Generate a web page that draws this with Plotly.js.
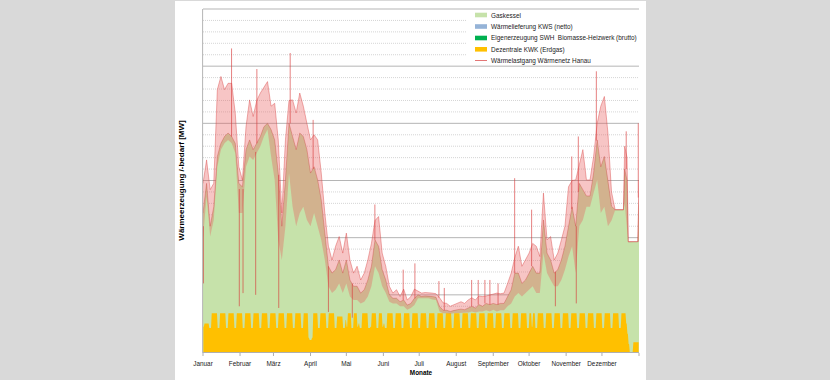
<!DOCTYPE html>
<html><head><meta charset="utf-8">
<script src="https://cdn.plot.ly/plotly-3.0.1.min.js"></script>
<style>
html,body{margin:0;padding:0;background:#d9d9d9;width:830px;height:380px;overflow:hidden}
#wrap{position:absolute;left:175px;top:1px;width:471px;height:379px;background:#fff;overflow:hidden}
#chart{width:589px;height:379px;transform:scaleX(0.8);transform-origin:0 0}
</style></head>
<body><div id="wrap"><div id="chart"></div></div>
<script>
// ---------- data (MW) ----------
const monthStarts = ['2018-01-01','2018-02-01','2018-03-01','2018-04-01','2018-05-01','2018-06-01',
  '2018-07-01','2018-08-01','2018-09-01','2018-10-01','2018-11-01','2018-12-01','2019-01-01'];
const monthLabels = ['Januar','Februar','März','April','Mai','Juni','Juli','August','September',
  'Oktober','November','Dezember',''];

// sample days (day of year 2018, 0 = 1 Jan)
const sampleDays = [0,3,6,9,12,15,18,21,24,27,30,33,36,39,42,45,48,51,54,57,60,63,66,69,72,75,78,81,84,87,
  90,93,96,99,102,105,108,111,114,117,120,123,126,129,132,135,138,141,144,147,150,153,156,159,162,165,168,171,174,177,
  180,183,186,189,192,195,198,201,204,207,210,213,216,219,222,225,228,231,234,237,240,243,246,249,252,255,258,261,264,267,
  270,273,276,279,282,285,288,291,294,297,300,303,306,309,312,315,318,321,324,327,330,333,336,339,342,345,348,351,
  352,353,355,356,357,360,364,365];

// upper envelope of the hourly heat load (Wärmelastgang)
const lastHigh = [29.5,33.6,28.4,29.5,45.9,48.2,45.9,47.0,47.0,41.8,32.4,30.1,39.4,44.1,41.2,44.0,45.3,46.4,47.3,43.0,
  43.5,37.1,24.3,37.1,44.0,44.1,41.8,45.3,43.0,40.0,37.1,38.0,37.1,31.3,24.3,18.5,16.1,18.5,20.2,17.3,
  20.8,16.1,13.8,15.0,12.6,13.8,16.1,19.0,23.0,23.7,17.3,15.0,11.5,10.3,10.9,9.7,11.0,9.1,9.7,11.0,
  10.6,10.3,10.4,10.4,10.3,10.2,9.5,8.6,8.5,8.0,8.3,8.5,8.8,8.5,9.1,9.5,9.1,9.8,9.7,9.8,
  10.0,10.2,10.3,10.2,10.3,12.0,13.8,16.5,18.5,15.0,16.1,17.3,19.0,18.5,16.7,27.8,19.6,20.2,16.1,17.3,
  19.6,22.0,28.9,30.0,30.1,33.0,35.4,30.1,30.1,34.2,40.0,43.0,44.7,38.3,28.0,24.9,24.9,24.9,
  24.9,36.0,34.0,19.3,19.3,19.3,19.3,30.0];
// top of the production area (Gaskessel stacked on Dezentrale KWK)
const erzeugungTop = [24.3,29.5,22.0,25.4,34.2,36.5,37.7,38.3,37.7,36.5,29.5,28.9,35.4,37.1,35.4,36.5,37.7,39.4,40.0,38.9,
  37.1,31.3,22.0,30.1,40.0,37.7,35.4,38.3,37.7,35.4,31.3,32.4,30.1,26.6,20.8,15.0,13.8,14.4,16.1,13.8,
  16.1,12.6,11.5,11.5,10.3,10.9,12.6,15.0,19.6,18.5,14.4,12.6,10.0,9.4,9.4,8.8,9.1,8.2,8.5,9.4,
  10.0,9.7,9.8,9.8,9.7,9.6,8.0,7.3,7.3,7.1,7.3,7.4,7.5,7.4,7.7,8.0,7.7,8.3,8.0,8.5,
  8.3,8.5,8.3,8.5,8.5,9.7,10.9,13.8,13.8,12.0,12.6,13.8,15.0,13.8,13.8,23.1,17.3,16.1,13.8,14.4,
  16.1,18.5,22.0,25.4,22.0,29.5,28.4,27.3,27.3,31.3,37.1,32.4,34.2,30.1,25.5,24.9,24.9,24.9,
  24.9,32.0,30.0,19.3,19.3,19.3,19.3,27.0];
// lower envelope of the hourly heat load
const lastLow = [20.0,27.2,20.2,23.1,32.4,35.4,36.5,37.1,36.5,34.8,24.3,24.3,32.4,34.2,33.6,34.8,36.0,37.7,38.9,34.2,
  30.1,19.6,16.1,22.0,31.3,25.4,22.0,24.3,25.4,23.1,22.0,24.3,22.0,19.6,16.1,11.5,10.3,10.9,12.0,10.3,
  12.0,9.7,9.1,9.1,8.5,8.8,9.7,11.5,15.0,13.8,11.5,10.3,8.8,8.5,8.5,8.0,8.0,7.4,7.7,8.2,
  9.4,9.4,9.4,9.4,9.2,9.1,7.1,6.8,6.8,6.7,6.8,6.8,6.9,6.8,6.9,7.1,6.9,7.1,7.1,7.3,
  7.1,7.4,7.1,7.3,7.3,8.0,8.5,9.7,10.3,9.7,10.3,10.9,11.5,10.3,10.3,17.3,13.8,12.6,11.5,11.5,
  12.6,14.4,16.7,18.5,13.8,22.0,23.1,25.4,25.4,27.8,30.1,24.3,25.4,22.0,23.0,24.8,24.8,24.8,
  24.8,26.0,22.0,19.2,19.2,19.2,19.2,19.3];

// single-hour peaks and drops of the load line
const spikeDay  = [0.4,23.9,30.4,33.5,44.1,45.1,63.4,73.0,92.2,105.0,125.0,143.9,167.6,177.4,197.5,202.0,224.9,230.4,236.0,240.2,
  247.0,260.9,275.1,295.0,308.7,312.5,314.2,329.3,354.3,364.4];
const spikeFrom = [22.0,37.7,28.5,28.5,35.0,36.5,31.0,40.0,32.0,15.0,12.0,19.6,9.1,9.4,9.5,7.3,8.0,8.3,8.5,8.3,
  8.3,13.8,15.0,14.0,25.0,22.0,28.0,37.0,32.0,27.0];
const spikeTo   = [12.0,53.1,8.0,10.3,10.0,49.5,7.7,52.3,40.6,7.0,6.0,25.8,14.4,15.5,12.4,11.2,12.6,12.6,12.6,12.6,
  12.0,30.4,24.9,8.0,34.2,8.5,37.7,49.1,38.6,40.0];

// Dezentrale KWK (Erdgas), one value per day
const kwkDaily = [
  4.4,5.0,5.0,5.0,5.0,4.2,4.2,
  6.8,6.8,6.8,6.8,6.8,4.2,4.2,
  6.8,6.8,6.8,6.8,6.8,4.2,4.2,
  6.8,6.8,6.8,6.8,6.8,4.2,4.2,
  6.8,6.8,6.8,6.8,6.8,4.2,4.2,
  6.8,6.8,6.8,6.8,6.8,4.2,4.2,
  6.8,6.8,6.8,6.8,6.8,4.2,4.2,
  6.8,6.8,6.8,6.8,6.8,4.2,4.2,
  6.8,6.8,6.8,6.8,6.8,4.2,4.2,
  6.8,6.8,6.8,6.8,6.8,4.2,4.2,
  6.8,6.8,6.8,6.8,6.8,4.2,4.2,
  6.8,6.8,6.8,6.8,6.8,4.2,4.2,
  6.8,6.8,6.8,6.8,2.5,2.1,2.1,
  2.5,6.8,6.8,6.8,6.8,4.2,4.2,
  6.8,6.8,6.8,6.8,6.8,4.2,4.2,
  6.8,6.8,6.8,6.8,6.8,4.2,4.2,
  6.2,6.2,6.2,6.2,6.2,4.2,4.2,
  5.6,4.4,6.8,6.8,6.8,4.2,4.2,
  6.8,6.8,6.8,4.4,5.0,4.2,4.2,
  6.8,6.8,6.8,6.8,6.8,4.2,4.2,
  4.4,6.8,6.8,6.8,6.8,4.2,4.2,
  6.8,6.8,6.8,4.4,5.0,4.2,4.2,
  6.8,6.8,6.8,6.8,6.8,4.2,4.2,
  6.8,6.8,6.8,6.8,6.8,4.2,4.2,
  6.8,6.8,6.8,6.8,6.8,4.2,4.2,
  6.8,6.8,6.8,6.8,6.8,4.2,4.2,
  6.8,6.8,6.8,6.8,6.8,4.2,4.2,
  6.8,6.8,6.8,6.8,6.8,4.2,4.2,
  6.8,6.8,6.8,6.8,6.8,4.2,4.2,
  6.8,6.8,6.8,6.8,6.8,4.2,4.2,
  6.8,6.8,6.8,6.8,6.8,4.2,4.2,
  6.8,6.8,6.8,6.8,6.8,4.2,4.2,
  6.8,6.8,6.8,6.8,6.8,4.2,4.2,
  6.8,6.8,6.8,6.8,6.8,4.2,4.2,
  6.8,6.8,6.8,6.8,6.8,4.2,4.2,
  6.8,6.8,6.8,6.8,6.8,4.2,4.2,
  6.8,6.8,6.8,6.8,6.8,4.2,4.2,
  6.8,6.8,6.8,6.8,6.8,4.2,4.2,
  6.8,6.8,6.8,6.8,6.8,4.2,4.2,
  6.8,6.8,4.4,6.8,6.8,4.2,4.2,
  6.8,6.8,6.8,6.8,6.8,4.2,4.2,
  6.8,6.8,6.8,6.8,6.8,4.2,4.2,
  6.8,6.8,6.8,6.8,6.8,4.2,4.2,
  6.8,6.8,6.8,6.8,6.8,4.2,4.2,
  6.8,6.8,6.8,6.8,6.8,4.2,4.2,
  6.8,6.8,6.8,6.8,6.8,4.2,4.2,
  6.8,6.8,6.8,6.8,6.8,4.2,4.2,
  6.8,6.8,6.8,6.8,6.8,4.2,4.2,
  6.8,6.8,6.8,6.8,6.8,4.2,4.2,
  6.8,6.8,6.8,6.8,6.8,4.2,4.2,
  6.8,6.8,6.8,6.8,5.0,3.2,1.4,
  0,0,0,1.7,1.7,1.7,1.7,
  1.7];

const legendNames = ['Gaskessel','Wärmelieferung KWS (netto)','Eigenerzeugung SWH\u00a0 Biomasse-Heizwerk (brutto)',
  'Dezentrale KWK (Erdgas)','Wärmelastgang Wärmenetz Hanau'];
const legendColors = ['#c6e2aa','#95b3d7','#00b050','#ffc000','#e06666'];

// ---------- helpers ----------
const T0 = Date.UTC(2018,0,1);
function dayToDate(d){ return new Date(T0 + d*86400000).toISOString().slice(0,19).replace('T',' '); }
const sampleX = sampleDays.map(dayToDate);
const kwkX = [], kwkY = [];
kwkDaily.forEach((v,i)=>{ kwkX.push(dayToDate(i+0.3), dayToDate(i+0.7)); kwkY.push(v, v); });
const spX = [], spY = [];
spikeDay.forEach((d,i)=>{ spX.push(dayToDate(d), dayToDate(d), null); spY.push(spikeFrom[i], spikeTo[i], null); });

// plot area in screen pixels: x 203..639, y 9..352
const px = s => (s-203)/436, py = s => (352-s)/343;
const FONT = 'Liberation Sans, Arial, sans-serif';

const traces = [
  {x: sampleX, y: erzeugungTop, mode:'none', fill:'tozeroy', fillcolor: legendColors[0], name: legendNames[0], hoverinfo:'skip'},
  {x: kwkX, y: kwkY, mode:'none', fill:'tozeroy', fillcolor: legendColors[3], name: legendNames[3], hoverinfo:'skip'},
  {x: sampleX, y: lastLow, mode:'lines', line:{width:0, color:'rgba(0,0,0,0)'}, hoverinfo:'skip'},
  {x: sampleX, y: lastHigh, mode:'lines', fill:'tonexty', fillcolor:'rgba(232,95,95,0.36)',
   line:{color:'rgba(215,55,55,0.55)', width:0.8}, name: legendNames[4], hoverinfo:'skip'},
  {x: sampleX, y: erzeugungTop, mode:'lines', line:{color:'rgba(200,50,50,0.45)', width:0.8}, hoverinfo:'skip'},
  {x: spX, y: spY, mode:'lines', line:{color:'rgba(215,55,55,0.7)', width:1}, connectgaps:false, hoverinfo:'skip'}
];

const shapes = [
  {type:'line', xref:'paper', yref:'paper', x0:0, x1:1, y0:1, y1:1, line:{color:'#adadad', width:1}, layer:'below'},
  {type:'rect', xref:'paper', yref:'paper', x0:px(467), x1:px(639), y0:py(64), y1:py(10.5),
   fillcolor:'#ffffff', line:{width:0}, layer:'above'}];
const annotations = [];
const legendY = [15, 26.5, 38, 49.3, 60.5];
legendNames.forEach((n,i)=>{
  if (i < 4) {
    shapes.push({type:'rect', xref:'paper', yref:'paper', x0:px(475), x1:px(487), y0:py(legendY[i]+2.3), y1:py(legendY[i]-2.3),
      fillcolor: legendColors[i], line:{width:0}, layer:'above'});
  } else {
    shapes.push({type:'line', xref:'paper', yref:'paper', x0:px(475), x1:px(487), y0:py(legendY[i]), y1:py(legendY[i]),
      line:{color: legendColors[i], width:1}, layer:'above'});
  }
  annotations.push({xref:'paper', yref:'paper', x:px(489), y:py(legendY[i]), xanchor:'left', yanchor:'middle',
    text:n, showarrow:false, font:{family:FONT, size:8, color:'#1a1a1a'}});
});

const layout = {
  width:589, height:379,
  margin:{l:35, r:9, t:8, b:28},
  paper_bgcolor:'#ffffff', plot_bgcolor:'#ffffff',
  showlegend:false,
  font:{family:FONT, size:8, color:'#1a1a1a'},
  xaxis:{type:'date', range:[dayToDate(0), dayToDate(365)], tickvals:monthStarts, ticktext:monthLabels,
    ticks:'outside', ticklen:3, tickcolor:'#a6a6a6', showgrid:false, zeroline:false,
    showline:true, linecolor:'#a6a6a6', linewidth:1,
    tickfont:{family:FONT, size:8, color:'#1a1a1a'},
    title:{text:'Monate', font:{family:FONT, size:8, weight:700, color:'#000'}, standoff:2}},
  yaxis:{range:[0,60], tick0:0, dtick:10, showticklabels:false, ticks:'', zeroline:false,
    showgrid:true, gridcolor:'#adadad', gridwidth:1, showline:true, linecolor:'#adadad', linewidth:1,
    minor:{dtick:2, showgrid:true, gridcolor:'#c4c4c4', griddash:'1px,1.5px', gridwidth:1},
    title:{text:'Wärmeerzeugung /-bedarf [MW]', font:{family:FONT, size:8, weight:700, color:'#000'}, standoff:20}},
  shapes:shapes, annotations:annotations
};

Plotly.newPlot('chart', traces, layout, {staticPlot:true, displayModeBar:false});
</script></body></html>
